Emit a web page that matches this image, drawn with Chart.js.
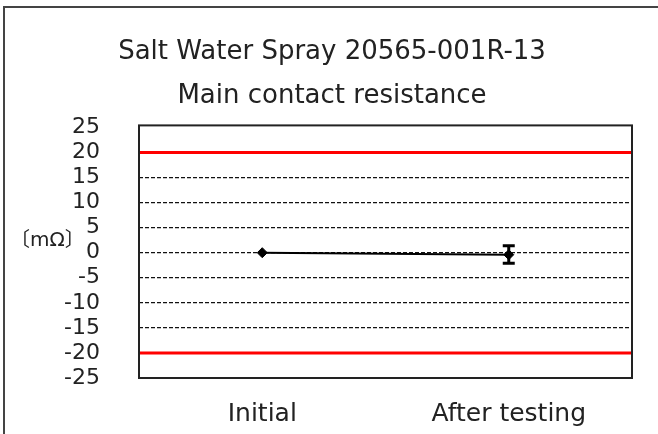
<!DOCTYPE html>
<html>
<head>
<meta charset="utf-8">
<script src="https://cdn.jsdelivr.net/npm/chart.js@4/dist/chart.umd.min.js"></script>
<style>
  html, body { margin: 0; padding: 0; background: #fff; }
  canvas { display: block; }
</style>
</head>
<body>
<canvas id="myChart" width="658" height="434"></canvas>
<script>
// data
const categories = ['Initial', 'After testing'];
const meanValues = [0, -0.4];
const maxValues = [0, 1.4];
const minValues = [0, -2.1];
const limitValues = [20, -20];
const yMin = -25;
const yMax = 25;
const yStep = 5;
const titleLines = ['Salt Water Spray 20565-001R-13', 'Main contact resistance'];
const unitLabel = '〔mΩ〕';

const FONT = "'DejaVu Sans', Verdana, sans-serif";

// outer frame, limit lines, error bars, unit text and plot border
const extras = {
  id: 'extras',
  beforeDraw(chart) {
    const ctx = chart.ctx;
    ctx.save();
    ctx.strokeStyle = '#444';
    ctx.lineWidth = 2;
    ctx.beginPath();
    ctx.moveTo(4, 434);
    ctx.lineTo(4, 7);
    ctx.lineTo(658, 7);
    ctx.stroke();
    ctx.restore();
  },
  beforeDatasetsDraw(chart) {
    const {ctx, chartArea, scales} = chart;
    ctx.save();
    ctx.strokeStyle = '#ff0000';
    ctx.lineWidth = 3;
    limitValues.forEach(v => {
      const y = scales.y.getPixelForValue(v);
      ctx.beginPath();
      ctx.moveTo(chartArea.left, y);
      ctx.lineTo(chartArea.right, y);
      ctx.stroke();
    });
    ctx.restore();
  },
  afterDatasetsDraw(chart) {
    const {ctx, chartArea, scales} = chart;
    ctx.save();
    ctx.strokeStyle = '#000';
    ctx.lineWidth = 3;
    categories.forEach((c, i) => {
      if (maxValues[i] === minValues[i]) return;
      const x = scales.x.getPixelForValue(i);
      const yHi = scales.y.getPixelForValue(maxValues[i]);
      const yLo = scales.y.getPixelForValue(minValues[i]);
      ctx.beginPath();
      ctx.moveTo(x, yHi);
      ctx.lineTo(x, yLo);
      ctx.moveTo(x - 6, yHi);
      ctx.lineTo(x + 6, yHi);
      ctx.moveTo(x - 6, yLo);
      ctx.lineTo(x + 6, yLo);
      ctx.stroke();
    });
    // plot frame
    ctx.strokeStyle = '#222';
    ctx.lineWidth = 2;
    ctx.strokeRect(chartArea.left, chartArea.top - 2, chartArea.right - chartArea.left, chartArea.bottom - chartArea.top + 2);
    // unit
    ctx.fillStyle = '#222';
    ctx.font = "20px 'DejaVu Sans', 'Noto Sans CJK JP', sans-serif";
    ctx.textAlign = 'left';
    ctx.textBaseline = 'middle';
    ctx.fillText(unitLabel, 10, scales.y.getPixelForValue(2.5) + 1);
    ctx.restore();
  }
};

const chartRef = document.getElementById('myChart').getContext('2d');

new Chart(chartRef, {
  type: 'line',
  data: {
    labels: categories,
    datasets: [
      {
        label: 'Main contact resistance',
        data: meanValues,
        borderColor: '#000',
        backgroundColor: '#000',
        borderWidth: 2,
        fill: false,
        tension: 0,
        pointStyle: 'rectRot',
        pointRadius: 5,
        pointBorderWidth: 1
      }
    ]
  },
  options: {
    responsive: false,
    animation: false,
    layout: { padding: { left: 32, right: 26, top: 0, bottom: 0 } },
    plugins: {
      legend: { display: false },
      tooltip: { enabled: false },
      title: {
        display: true,
        text: titleLines,
        color: '#222',
        font: { family: FONT, size: 26, weight: 'normal', lineHeight: 1.7 },
        padding: { top: 30, bottom: 9 }
      }
    },
    scales: {
      x: {
        offset: true,
        grid: { display: false, drawTicks: false },
        border: { display: false },
        ticks: { color: '#222', font: { family: FONT, size: 25 }, padding: 21 },
        afterFit(scale) { scale.height = 56; }
      },
      y: {
        min: yMin,
        max: yMax,
        ticks: { stepSize: yStep, autoSkip: false, color: '#222', font: { family: FONT, size: 22 }, padding: 39 },
        grid: {
          drawTicks: false,
          lineWidth: 1.3,
          color: c => {
            const v = c.tick && c.tick.value;
            if (v === yMin || v === yMax || limitValues.includes(v)) return 'rgba(0,0,0,0)';
            return '#111';
          }
        },
        border: { display: false, dash: [4, 2] },
        afterFit(scale) { scale.width = 107; }
      }
    }
  },
  plugins: [extras]
});
</script>
</body>
</html>
